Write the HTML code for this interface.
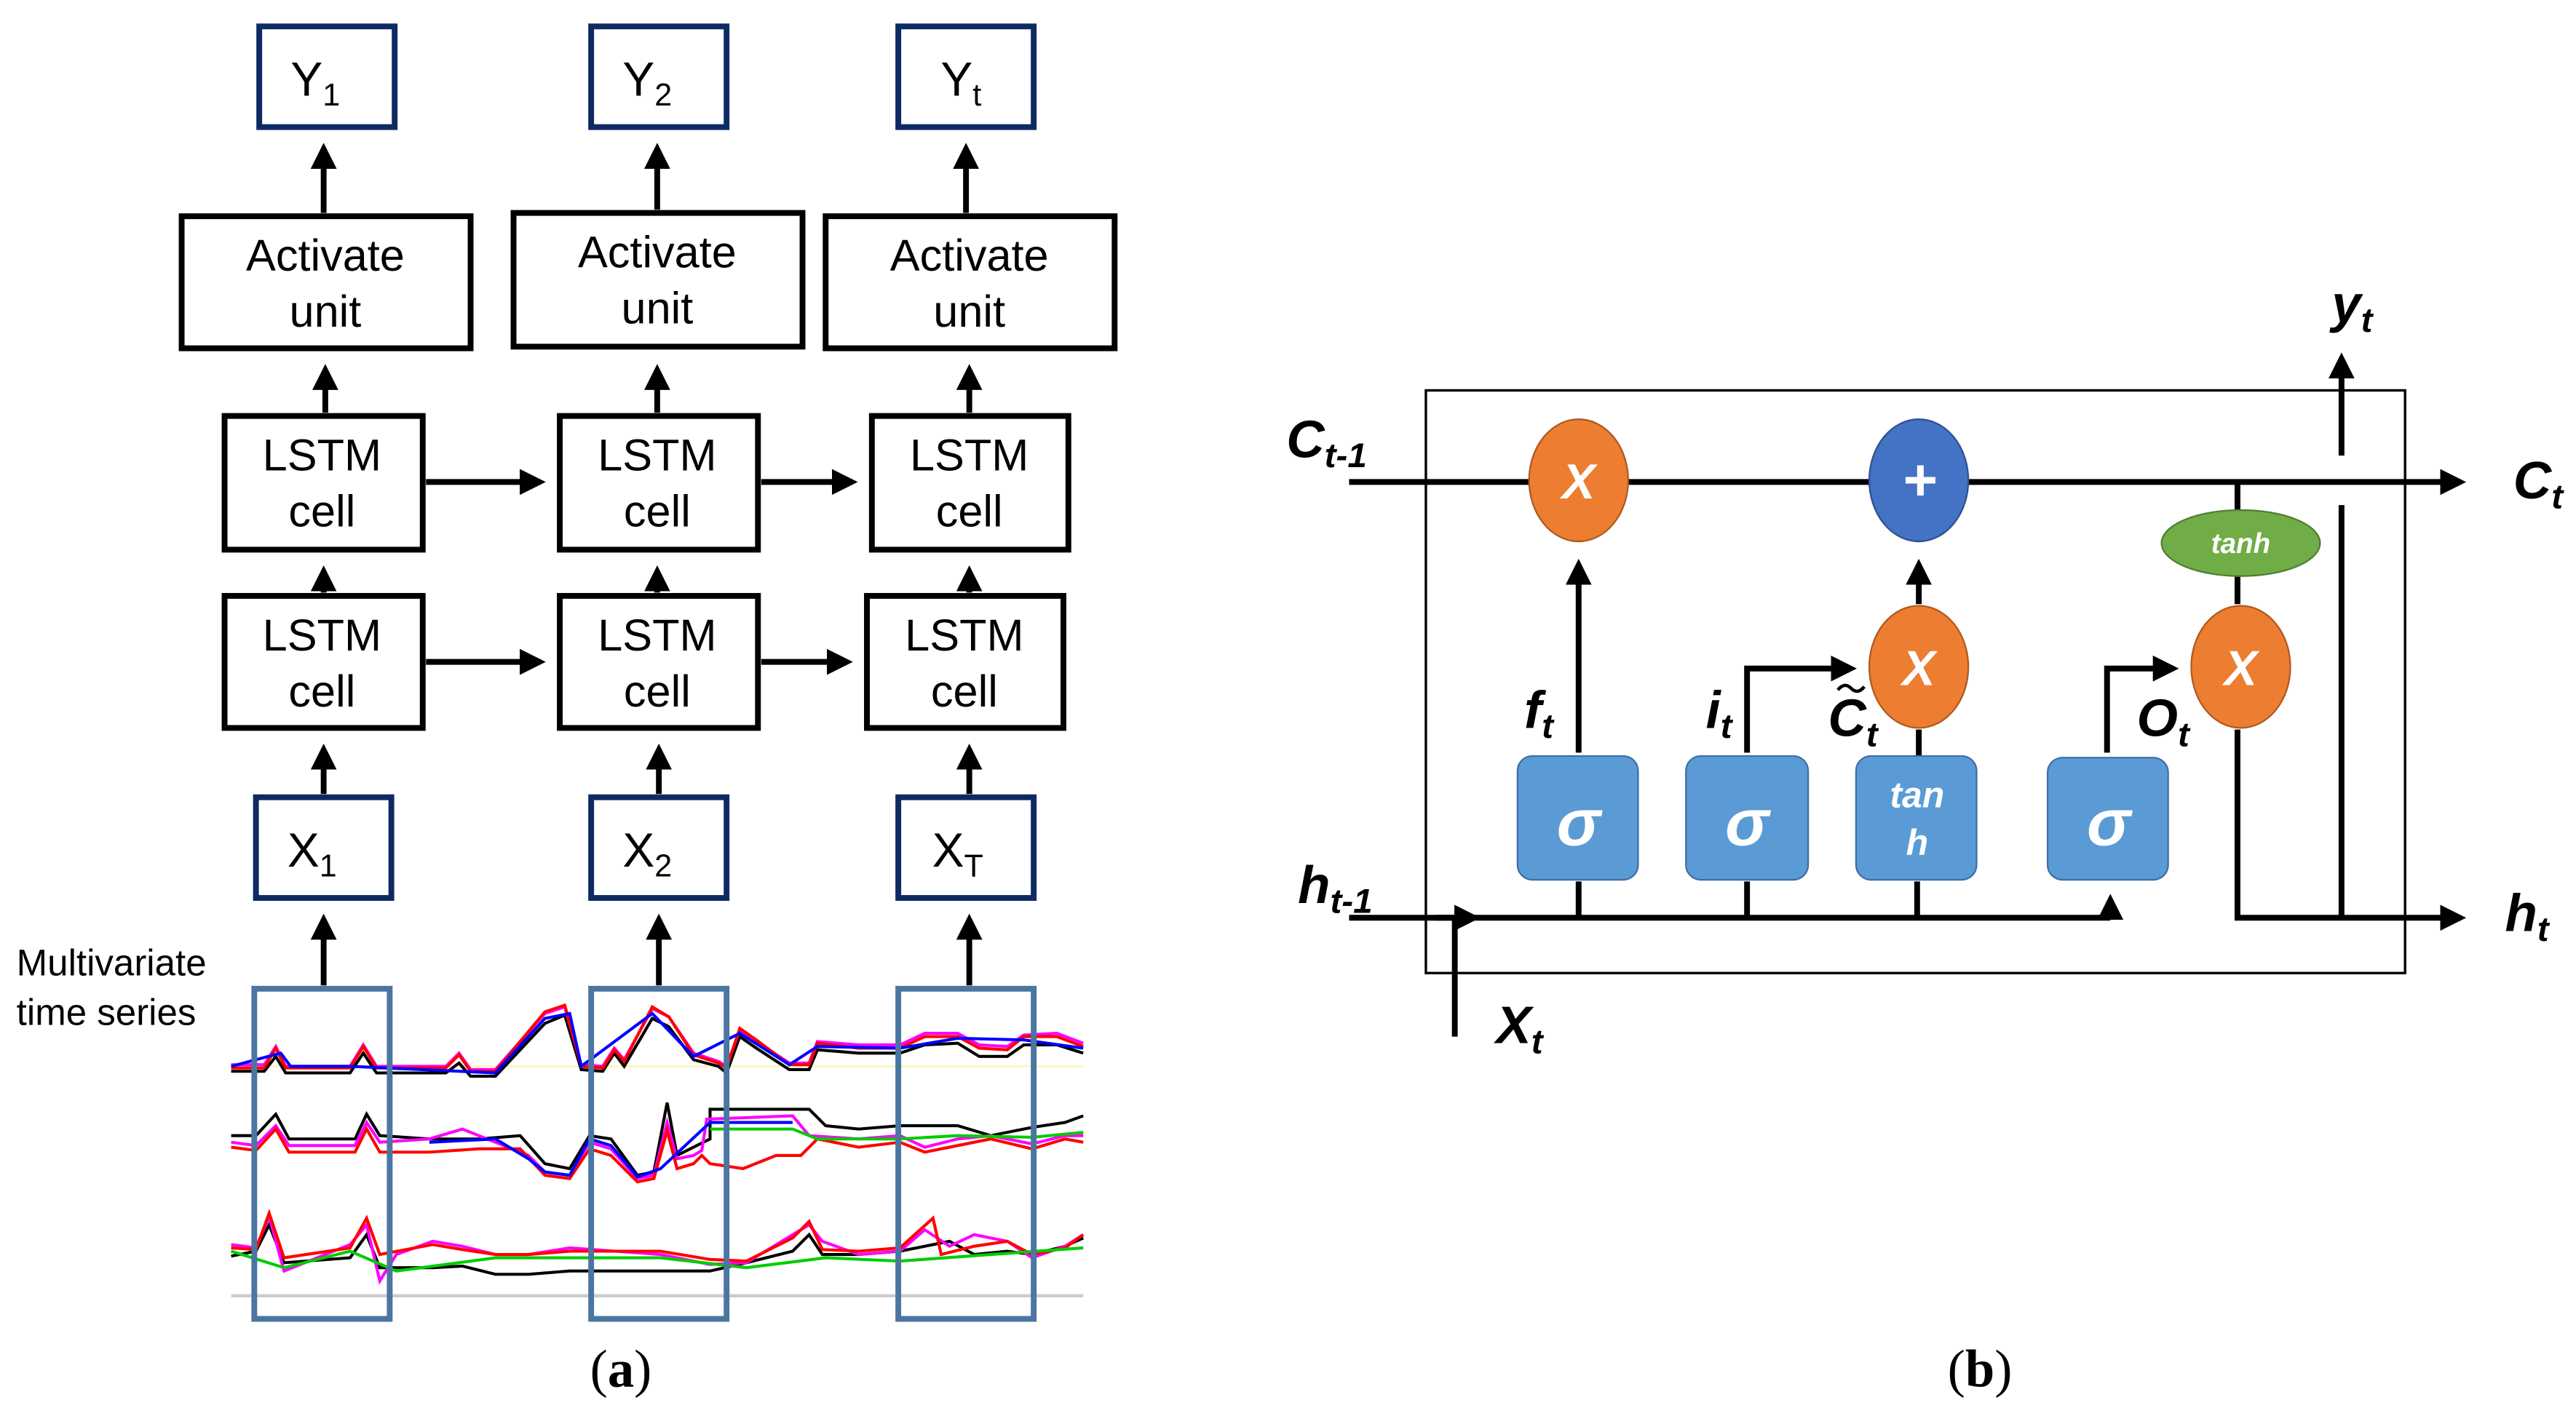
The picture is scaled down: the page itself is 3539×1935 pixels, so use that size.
<!DOCTYPE html>
<html><head><meta charset="utf-8"><style>
html,body{margin:0;padding:0;background:#fff;}
svg{display:block;}
text{font-family:"Liberation Sans",sans-serif;}
</style></head><body>
<svg width="3539" height="1935" viewBox="0 0 1560 853" preserveAspectRatio="none" xmlns="http://www.w3.org/2000/svg">
<defs>
<marker id="ah" markerWidth="4.5" markerHeight="4.5" refX="3.5" refY="2.25" orient="auto" markerUnits="strokeWidth"><path d="M0,0 L4.5,2.25 L0,4.5 z" fill="#000"/></marker>
</defs>
<rect width="1560" height="853" fill="#fff"/>
<g fill="none" stroke="#0d2a63" stroke-width="3.5">
<rect x="157" y="16" width="82" height="61"/><rect x="358" y="16" width="82" height="61"/><rect x="544" y="16" width="82" height="61"/>
<rect x="155" y="483" width="82" height="61"/><rect x="358" y="483" width="82" height="61"/><rect x="544" y="483" width="82" height="61"/>
</g>
<g fill="none" stroke="#000" stroke-width="3.5">
<rect x="110" y="131" width="175" height="80"/><rect x="311" y="129" width="175" height="81"/><rect x="500" y="131" width="175" height="80"/>
<rect x="136" y="252" width="120" height="81"/><rect x="339" y="252" width="120" height="81"/><rect x="528" y="252" width="119" height="81"/>
<rect x="136" y="361" width="120" height="80"/><rect x="339" y="361" width="120" height="80"/><rect x="525" y="361" width="119" height="80"/>
</g>
<g stroke="#000" stroke-width="3.5" marker-end="url(#ah)">
<line x1="196" y1="129" x2="196" y2="90"/><line x1="398" y1="127" x2="398" y2="90"/><line x1="585" y1="129" x2="585" y2="90"/>
<line x1="197" y1="250" x2="197" y2="224"/><line x1="398" y1="250" x2="398" y2="224"/><line x1="587" y1="250" x2="587" y2="224"/>
<line x1="196" y1="359" x2="196" y2="346"/><line x1="398" y1="359" x2="398" y2="346"/><line x1="587" y1="359" x2="587" y2="346"/>
<line x1="196" y1="481" x2="196" y2="454"/><line x1="399" y1="481" x2="399" y2="454"/><line x1="587" y1="481" x2="587" y2="454"/>
<line x1="196" y1="597" x2="196" y2="557"/><line x1="399" y1="597" x2="399" y2="557"/><line x1="587" y1="597" x2="587" y2="557"/>
<line x1="258" y1="292" x2="327" y2="292"/><line x1="461" y1="292" x2="516" y2="292"/>
<line x1="258" y1="401" x2="327" y2="401"/><line x1="461" y1="401" x2="513" y2="401"/>
</g>
<g font-size="29" text-anchor="middle" fill="#000">
<text x="191" y="58">Y<tspan font-size="19" dy="6">1</tspan></text>
<text x="392" y="58">Y<tspan font-size="19" dy="6">2</tspan></text>
<text x="582" y="58">Y<tspan font-size="19" dy="6">t</tspan></text>
<text x="189" y="525">X<tspan font-size="19" dy="6">1</tspan></text>
<text x="392" y="525">X<tspan font-size="19" dy="6">2</tspan></text>
<text x="580" y="525">X<tspan font-size="19" dy="6">T</tspan></text>
</g>
<g font-size="27" text-anchor="middle" fill="#000">
<text x="197" y="164">Activate</text><text x="197" y="198">unit</text>
<text x="398" y="162">Activate</text><text x="398" y="196">unit</text>
<text x="587" y="164">Activate</text><text x="587" y="198">unit</text>
<text x="195" y="285">LSTM</text><text x="195" y="319">cell</text>
<text x="398" y="285">LSTM</text><text x="398" y="319">cell</text>
<text x="587" y="285">LSTM</text><text x="587" y="319">cell</text>
<text x="195" y="394">LSTM</text><text x="195" y="428">cell</text>
<text x="398" y="394">LSTM</text><text x="398" y="428">cell</text>
<text x="584" y="394">LSTM</text><text x="584" y="428">cell</text>
</g>
<text x="10" y="591" font-size="22.5">Multivariate</text>
<text x="10" y="621" font-size="22.5">time series</text>
<line x1="140" y1="785" x2="656" y2="785" stroke="#ccc" stroke-width="2"/>
<line x1="140" y1="646" x2="656" y2="646" stroke="#fff6c8" stroke-width="1.5"/>
<g fill="none" stroke-width="1.8">
<polyline stroke="#000" points="140,649 160,649 167,640 173,650 212,650 220,638 228,650 260,650 270,650 278,644 285,652 300,652 330,620 342,615 352,648 365,649 372,638 378,646 395,617 405,622 420,642 435,646 440,650 448,628 458,635 478,648 490,648 495,636 520,638 545,638 560,633 580,632 593,640 610,640 620,633 640,633 656,638"/>
<polyline stroke="#ff00ff" points="140,645 160,645 167,634 173,646 212,646 220,633 228,646 260,646 270,646 278,638 285,648 300,648 330,614 342,610 352,645 365,646 372,635 378,642 395,611 405,616 420,638 435,643 440,646 448,624 458,631 478,644 490,644 495,631 520,633 545,633 560,626 580,626 593,633 610,634 620,627 640,626 656,632"/>
<polyline stroke="#ff0000" points="140,647 160,647 167,635 173,647 212,647 220,634 228,647 260,647 270,647 278,639 285,649 300,649 330,613 342,609 352,646 365,647 372,636 378,643 395,610 405,616 420,639 435,644 440,647 448,623 458,630 478,645 490,645 495,632 520,635 545,635 560,628 580,628 593,635 610,636 620,628 640,628 656,634"/>
<polyline stroke="#0000ff" points="140,646 170,638 176,646 212,646 300,650 330,617 345,614 352,646 395,614 420,640 448,626 478,645 495,634 545,635 580,629 620,630 656,635"/>
<polyline stroke="#000" points="140,688 155,688 167,675 175,690 215,690 222,675 230,688 260,690 290,690 315,688 330,705 345,708 357,688 370,690 386,712 396,710 404,668 410,700 420,695 430,690 430,672 480,672 490,672 500,682 520,684 545,682 560,682 580,682 600,688 625,683 645,680 656,676"/>
<polyline stroke="#ff00ff" points="140,692 155,694 167,682 175,694 215,694 222,680 230,692 260,690 280,684 300,692 320,700 330,710 345,712 357,692 370,696 386,714 396,712 404,680 410,702 420,700 425,697 428,678 480,676 490,688 520,690 545,688 560,695 580,690 600,688 625,693 645,688 656,688"/>
<polyline stroke="#ff0000" points="140,695 155,697 167,684 175,698 215,698 222,684 230,698 260,698 290,696 315,696 330,712 345,714 357,696 370,700 386,716 396,714 404,685 410,708 420,705 425,700 430,705 450,708 470,700 485,700 495,690 520,695 545,692 560,698 580,694 600,690 625,696 645,690 656,692"/>
<polyline stroke="#00cc00" points="430,684 480,684 495,690 545,690 580,688 625,689 656,686"/>
<polyline stroke="#0000ff" points="260,692 300,690 320,702 330,710 345,712 357,690 370,694 386,713 400,708 430,680 480,680"/>
<polyline stroke="#000" points="140,761 155,758 163,742 172,765 212,762 222,748 230,768 262,768 280,767 300,772 320,772 345,770 400,770 430,770 452,765 480,758 490,748 498,760 520,760 545,758 560,755 575,752 590,760 610,758 625,760 645,755 656,750"/>
<polyline stroke="#ff00ff" points="140,754 155,756 163,737 172,770 212,754 222,742 230,776 240,760 262,752 280,755 300,760 320,760 345,756 400,760 430,766 452,765 480,748 490,742 498,752 520,760 545,758 560,745 575,755 590,748 610,752 625,762 645,755 656,748"/>
<polyline stroke="#ff0000" points="140,756 155,757 163,735 172,762 212,756 222,738 230,760 262,754 280,757 300,760 320,760 345,758 400,758 430,763 452,764 480,750 490,740 498,757 520,758 545,756 565,738 570,760 590,755 610,752 625,760 645,756 656,748"/>
<polyline stroke="#00cc00" points="140,758 172,768 212,758 240,770 300,762 400,762 452,768 500,762 545,764 600,760 656,756"/>
</g>
<g fill="none" stroke="#4a76a1" stroke-width="3.5">
<rect x="154" y="599" width="82" height="200"/><rect x="358" y="599" width="82" height="200"/><rect x="544" y="599" width="82" height="200"/>
</g>
<text x="376" y="840" font-size="32" text-anchor="middle" style="font-family:'Liberation Serif',serif">(<tspan font-weight="bold">a</tspan>)</text>
<text x="1199" y="840" font-size="32" text-anchor="middle" style="font-family:'Liberation Serif',serif">(<tspan font-weight="bold">b</tspan>)</text>
<rect x="863.5" y="236.5" width="593" height="353" fill="none" stroke="#000" stroke-width="1.5"/>
<g stroke="#000" stroke-width="3.5" fill="none">
<line x1="817" y1="292" x2="1490" y2="292" marker-end="url(#ah)"/>
<line x1="956" y1="456" x2="956" y2="342" marker-end="url(#ah)"/>
<line x1="1162" y1="366" x2="1162" y2="342" marker-end="url(#ah)"/>
<polyline points="1058,456 1058,405 1121,405" marker-end="url(#ah)"/>
<polyline points="1276,456 1276,405 1316,405" marker-end="url(#ah)"/>
<line x1="1162" y1="442" x2="1162" y2="458"/>
<line x1="1355" y1="292" x2="1355" y2="366"/>
<polyline points="1355,442 1355,556 1490,556" marker-end="url(#ah)"/>
<line x1="1418" y1="556" x2="1418" y2="306"/>
<line x1="1418" y1="276" x2="1418" y2="217" marker-end="url(#ah)"/>
<polyline points="817,556 1278,556"/>
<line x1="1278" y1="556" x2="1278" y2="545" marker-end="url(#ah)"/>
<line x1="956" y1="534" x2="956" y2="556"/><line x1="1058" y1="534" x2="1058" y2="556"/><line x1="1161" y1="534" x2="1161" y2="556"/>
<line x1="881" y1="556" x2="881" y2="628"/>
<line x1="870" y1="556" x2="893" y2="556" marker-end="url(#ah)"/>
</g>
<g stroke="#3f6fa6" stroke-width="1" fill="#5b9bd5">
<rect x="919" y="458" width="73" height="75" rx="9"/><rect x="1021" y="458" width="74" height="75" rx="9"/><rect x="1124" y="458" width="73" height="75" rx="9"/><rect x="1240" y="459" width="73" height="74" rx="9"/>
</g>
<g fill="#ed7d31" stroke="#ae5a21" stroke-width="1">
<ellipse cx="956" cy="291" rx="30" ry="37"/><ellipse cx="1162" cy="404" rx="30" ry="37"/><ellipse cx="1357" cy="404" rx="30" ry="37"/>
</g>
<ellipse cx="1162" cy="291" rx="30" ry="37" fill="#4472c4" stroke="#2f528f"/>
<ellipse cx="1357" cy="329" rx="48" ry="20" fill="#70ad47" stroke="#507e32"/>
<g fill="#fff" font-weight="bold" font-style="italic" text-anchor="middle">
<text x="956" y="302" font-size="30">X</text>
<text x="1162" y="415" font-size="30">X</text>
<text x="1357" y="415" font-size="30">X</text>
<text x="1163" y="303" font-size="36" font-style="normal">+</text>
<text x="1357" y="335" font-size="17">tanh</text>
<text x="956" y="512" font-size="40">σ</text>
<text x="1058" y="512" font-size="40">σ</text>
<text x="1277" y="512" font-size="40">σ</text>
<text x="1161" y="489" font-size="22">tan</text>
<text x="1161" y="518" font-size="22">h</text>
</g>
<g fill="#000" font-weight="bold" font-style="italic" font-size="32">
<text x="779" y="277">C<tspan font-size="21" dy="6">t-1</tspan></text>
<text x="1522" y="302">C<tspan font-size="21" dy="6">t</tspan></text>
<text x="1412" y="195">y<tspan font-size="21" dy="6">t</tspan></text>
<text x="786" y="547">h<tspan font-size="21" dy="6">t-1</tspan></text>
<text x="1517" y="564">h<tspan font-size="21" dy="6">t</tspan></text>
<text x="906" y="632">X<tspan font-size="21" dy="6">t</tspan></text>
<text x="923" y="441">f<tspan font-size="21" dy="6">t</tspan></text>
<text x="1033" y="441">i<tspan font-size="21" dy="6">t</tspan></text>
<text x="1107" y="446">C<tspan font-size="21" dy="6">t</tspan></text>
<text x="1294" y="446">O<tspan font-size="21" dy="6">t</tspan></text>
</g>
<path d="M1113,418 q4,-5 8,-1 q4,4 8,-1" stroke="#000" stroke-width="2" fill="none"/>
</svg>
</body></html>
